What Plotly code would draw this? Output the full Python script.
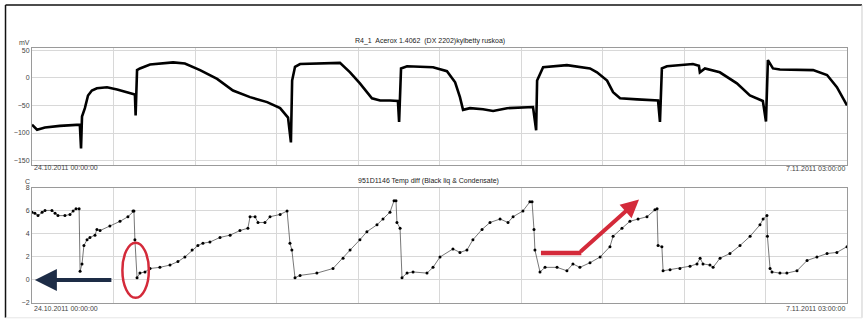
import plotly.graph_objects as go
import numpy as np

# ---------------- data ----------------
START_LABEL = "24.10.2011 00:00:00"
END_LABEL = "7.11.2011 03:00:00"
SPAN_HOURS = 339  # 24.10.2011 00:00 -> 7.11.2011 03:00

top_title = "R4_1  Acerox 1.4062  (DX 2202)kylbetty ruskoa)"
bottom_title = "951D1146 Temp diff (Black liq & Condensate)"
top_unit = "mV"
bottom_unit = "C"

# top panel: potential, mV (hours since start)
mv_hours = [0.0, 2.1, 5.4, 11.6, 19.9, 20.4, 20.8, 22.0, 23.3, 24.9, 27.0, 31.2, 35.4, 39.5,
            42.8, 43.1, 43.7, 44.9, 49.1, 58.7, 63.6, 69.9, 77.0, 83.6, 90.7, 97.8, 103.2,
            106.5, 107.7, 108.2, 109.4, 111.5, 128.1, 132.3, 136.4, 141.4, 144.8, 148.9,
            152.2, 152.7, 153.5, 156.0, 166.8, 172.6, 176.0, 178.0, 179.3, 182.2, 187.6,
            191.8, 197.6, 208.4, 209.7, 210.1, 212.6, 222.5, 232.1, 235.0, 239.2, 241.7,
            244.6, 251.7, 260.4, 261.2, 262.0, 264.1, 274.9, 277.4, 277.8, 279.9, 286.1,
            293.2, 298.6, 304.0, 305.3, 306.1, 308.2, 311.1, 324.9, 330.7, 334.8, 339.0]
mv_values = [-85, -94, -90, -87, -85, -128, -70, -55, -32, -23, -19, -17, -21, -26,
             -30, -68, 14, 17, 24, 28, 26, 14, -2, -23, -35, -44, -55,
             -72, -117, -5, 20, 25, 27, 10, -10, -37, -41, -41,
             -42, -80, 17, 21, 19, 12, -8, -35, -58, -55, -57,
             -60, -55, -53, -95, -5, 19, 23, 17, 10, -5, -26,
             -37, -39, -41, -80, 17, 21, 25, 22, 10, 17, 10,
             -10, -32, -42, -79, 32, 17, 15, 14, 5, -17, -50]

# bottom panel: temperature difference, C
dt_hours = [0.0, 1.2, 2.5, 4.2, 5.4, 8.3, 9.6, 10.8, 13.7, 15.8, 17.1, 18.3, 19.6, 20.0,
            20.8, 21.6, 22.9, 24.1, 26.2, 27.0, 28.3, 32.4, 36.6, 39.9, 42.0, 42.4, 42.8,
            43.7, 44.9, 47.0, 49.1, 53.2, 57.4, 60.7, 63.6, 66.6, 69.0, 71.1, 74.0, 78.2,
            82.4, 86.5, 89.8, 90.7, 92.8, 94.0, 96.9, 99.0, 103.2, 106.1, 107.3, 108.1,
            109.4, 111.5, 118.5, 125.2, 129.4, 132.3, 136.4, 139.3, 143.5, 146.0, 148.9,
            150.6, 151.4, 151.8, 153.1, 153.9, 156.0, 158.5, 164.3, 166.8, 169.7, 175.1,
            178.0, 180.9, 183.4, 187.2, 190.5, 194.7, 198.0, 200.1, 204.2, 207.1, 208.0,
            208.8, 209.2, 211.3, 213.4, 218.4, 222.5, 225.0, 227.9, 232.1, 236.3, 240.4,
            241.7, 245.4, 248.7, 252.1, 255.8, 259.1, 260.0, 260.4, 262.0, 262.5, 265.4,
            269.5, 273.7, 276.6, 277.9, 279.1, 282.0, 283.3, 286.2, 290.3, 294.5, 298.7,
            302.8, 304.1, 305.7, 305.9, 307.0, 307.8, 311.1, 314.0, 318.2, 322.4, 326.5,
            330.7, 334.8, 339.0]
dt_values = [5.9, 5.8, 5.6, 5.9, 6.05, 6.05, 5.8, 5.6, 5.6, 5.7, 6.0, 6.2, 6.2, 0.75,
             1.4, 3.0, 3.5, 3.7, 3.9, 4.4, 4.3, 4.7, 5.1, 5.5, 6.0, 6.0, 3.5,
             0.2, 0.6, 0.7, 1.0, 1.1, 1.3, 1.6, 2.0, 2.6, 3.0, 3.2, 3.3, 3.7,
             3.9, 4.3, 4.5, 5.5, 5.5, 5.0, 5.0, 5.5, 5.7, 6.0, 3.2, 2.6,
             0.2, 0.4, 0.6, 1.0, 1.9, 2.6, 3.5, 4.2, 4.8, 5.3, 5.9,
             6.9, 6.9, 5.0, 4.5, 0.2, 0.6, 0.7, 0.6, 1.1, 2.0, 2.7,
             2.4, 2.6, 3.5, 4.4, 5.0, 5.3, 5.0, 5.5, 6.0, 6.8, 6.8,
             4.4, 2.6, 0.7, 1.1, 1.1, 0.8, 1.4, 1.1, 1.5, 2.0, 2.9,
             3.8, 4.5, 5.1, 5.3, 5.5, 6.1, 6.2, 3.0, 2.9, 0.8, 0.9,
             1.0, 1.2, 1.4, 1.9, 1.4, 1.3, 1.1, 1.9, 2.3, 3.0, 3.8,
             4.8, 5.3, 5.6, 3.8, 1.0, 0.7, 0.6, 0.6, 0.8, 1.7, 2.0,
             2.3, 2.4, 2.9]

top_ticks = [50, 0, -50, -100, -150]
bottom_ticks = [8, 6, 4, 2, 0, -2]

# hand-drawn annotation positions (hours, C)
blue_arrow_head = (1.2, 0.0)
red_ellipse = dict(x0=37.6, x1=48.6, y0=-1.55, y1=3.25)
red_path_start = (211.7, 2.35)
red_path_corner = (227.5, 2.35)
red_arrow_head = (252.5, 7.0)

# ---------------- figure ----------------
FONT = "Liberation Sans, Arial, sans-serif"
GRID = "#d8d8d8"
AXLINE = "#9a9a9a"
TXT = "#444444"

fig = go.Figure()
fig.add_trace(go.Scatter(x=mv_hours, y=mv_values, mode="lines",
                         line=dict(color="black", width=2.6), xaxis="x", yaxis="y",
                         showlegend=False, hoverinfo="skip"))
fig.add_trace(go.Scatter(x=dt_hours, y=dt_values, mode="lines+markers",
                         line=dict(color="#555555", width=0.8),
                         marker=dict(color="black", size=3),
                         xaxis="x2", yaxis="y2", showlegend=False, hoverinfo="skip"))

grid_x = list(np.linspace(0, SPAN_HOURS, 11))

xcommon = dict(range=[0, SPAN_HOURS], tickvals=grid_x, showticklabels=False,
               showgrid=True, gridcolor=GRID, gridwidth=1, zeroline=False,
               showline=True, mirror=True, linecolor=AXLINE, linewidth=1, ticks="")
ycommon = dict(showgrid=True, gridcolor=GRID, gridwidth=1, zeroline=False,
               showline=True, mirror=True, linecolor=AXLINE, linewidth=1, ticks="",
               tickfont=dict(family=FONT, size=7, color=TXT))

fig.update_layout(
    width=866, height=325,
    margin=dict(l=32, r=19, t=48, b=22),
    paper_bgcolor="white", plot_bgcolor="white",
    font=dict(family=FONT, size=7, color=TXT),
    xaxis=dict(domain=[0, 1], anchor="y", **xcommon),
    yaxis=dict(domain=[0.541, 1], anchor="x", range=[-158, 54], tickvals=top_ticks, **ycommon),
    xaxis2=dict(domain=[0, 1], anchor="y2", **xcommon),
    yaxis2=dict(domain=[0, 0.451], anchor="x2", range=[-2, 8], tickvals=bottom_ticks, **ycommon),
)

ann = []
def ptext(text, x, y, xanchor="center", size=7, color=TXT):
    ann.append(dict(text=text, x=x, y=y, xref="paper", yref="paper", showarrow=False,
                    xanchor=xanchor, yanchor="middle", font=dict(family=FONT, size=size, color=color)))

ptext(top_title, 0.488, 1.027, color="#222")
ptext(bottom_title, 0.486, 0.478, color="#222")
ptext(top_unit, -0.009, 1.02)
ptext(bottom_unit, -0.006, 0.478)
ptext(START_LABEL, 0.0, 0.533, xanchor="left")
ptext(END_LABEL, 1.0, 0.527, xanchor="right")
ptext(START_LABEL, 0.0, -0.02, xanchor="left")
ptext(END_LABEL, 1.0, -0.02, xanchor="right")

# dark blue arrow pointing at zero level
ann.append(dict(x=blue_arrow_head[0], y=blue_arrow_head[1], xref="x2", yref="y2",
                ax=78, ay=0, axref="pixel", ayref="pixel", text="", showarrow=True,
                arrowhead=2, arrowsize=1.1, arrowwidth=4, arrowcolor="#1d2c46", standoff=0))
# red arrow (diagonal part)
ann.append(dict(x=red_arrow_head[0], y=red_arrow_head[1], xref="x2", yref="y2",
                ax=red_path_corner[0], ay=red_path_corner[1], axref="x2", ayref="y2",
                text="", showarrow=True, arrowhead=2, arrowsize=0.9, arrowwidth=4,
                arrowcolor="#d42a3a", standoff=0))
fig.update_layout(annotations=ann)

shapes = []
# red ellipse
shapes.append(dict(type="circle", xref="x2", yref="y2", line=dict(color="#d42a3a", width=2.5),
                   **red_ellipse))
# red horizontal segment
shapes.append(dict(type="line", xref="x2", yref="y2",
                   x0=red_path_start[0], y0=red_path_start[1],
                   x1=red_path_corner[0] + 1.0, y1=red_path_corner[1],
                   line=dict(color="#d42a3a", width=4.5)))
# outer frame
fx0, fx1, fy0, fy1 = -0.0325, 1.0184, -0.058, 1.1686
shapes.append(dict(type="line", xref="paper", yref="paper", x0=fx0, x1=fx1, y0=fy1, y1=fy1,
                   line=dict(color="#111", width=1.5)))
shapes.append(dict(type="line", xref="paper", yref="paper", x0=fx0, x1=fx0, y0=fy0, y1=fy1,
                   line=dict(color="#111", width=1.5)))
shapes.append(dict(type="line", xref="paper", yref="paper", x0=fx1, x1=fx1, y0=fy0, y1=fy1,
                   line=dict(color="#cccccc", width=1)))
shapes.append(dict(type="line", xref="paper", yref="paper", x0=fx0, x1=fx1, y0=fy0, y1=fy0,
                   line=dict(color="#e6e6e6", width=1)))
fig.update_layout(shapes=shapes)

fig.write_html("out.html", config={"displayModeBar": False},
               post_script="document.body.style.margin='0';document.body.style.overflow='hidden';")
